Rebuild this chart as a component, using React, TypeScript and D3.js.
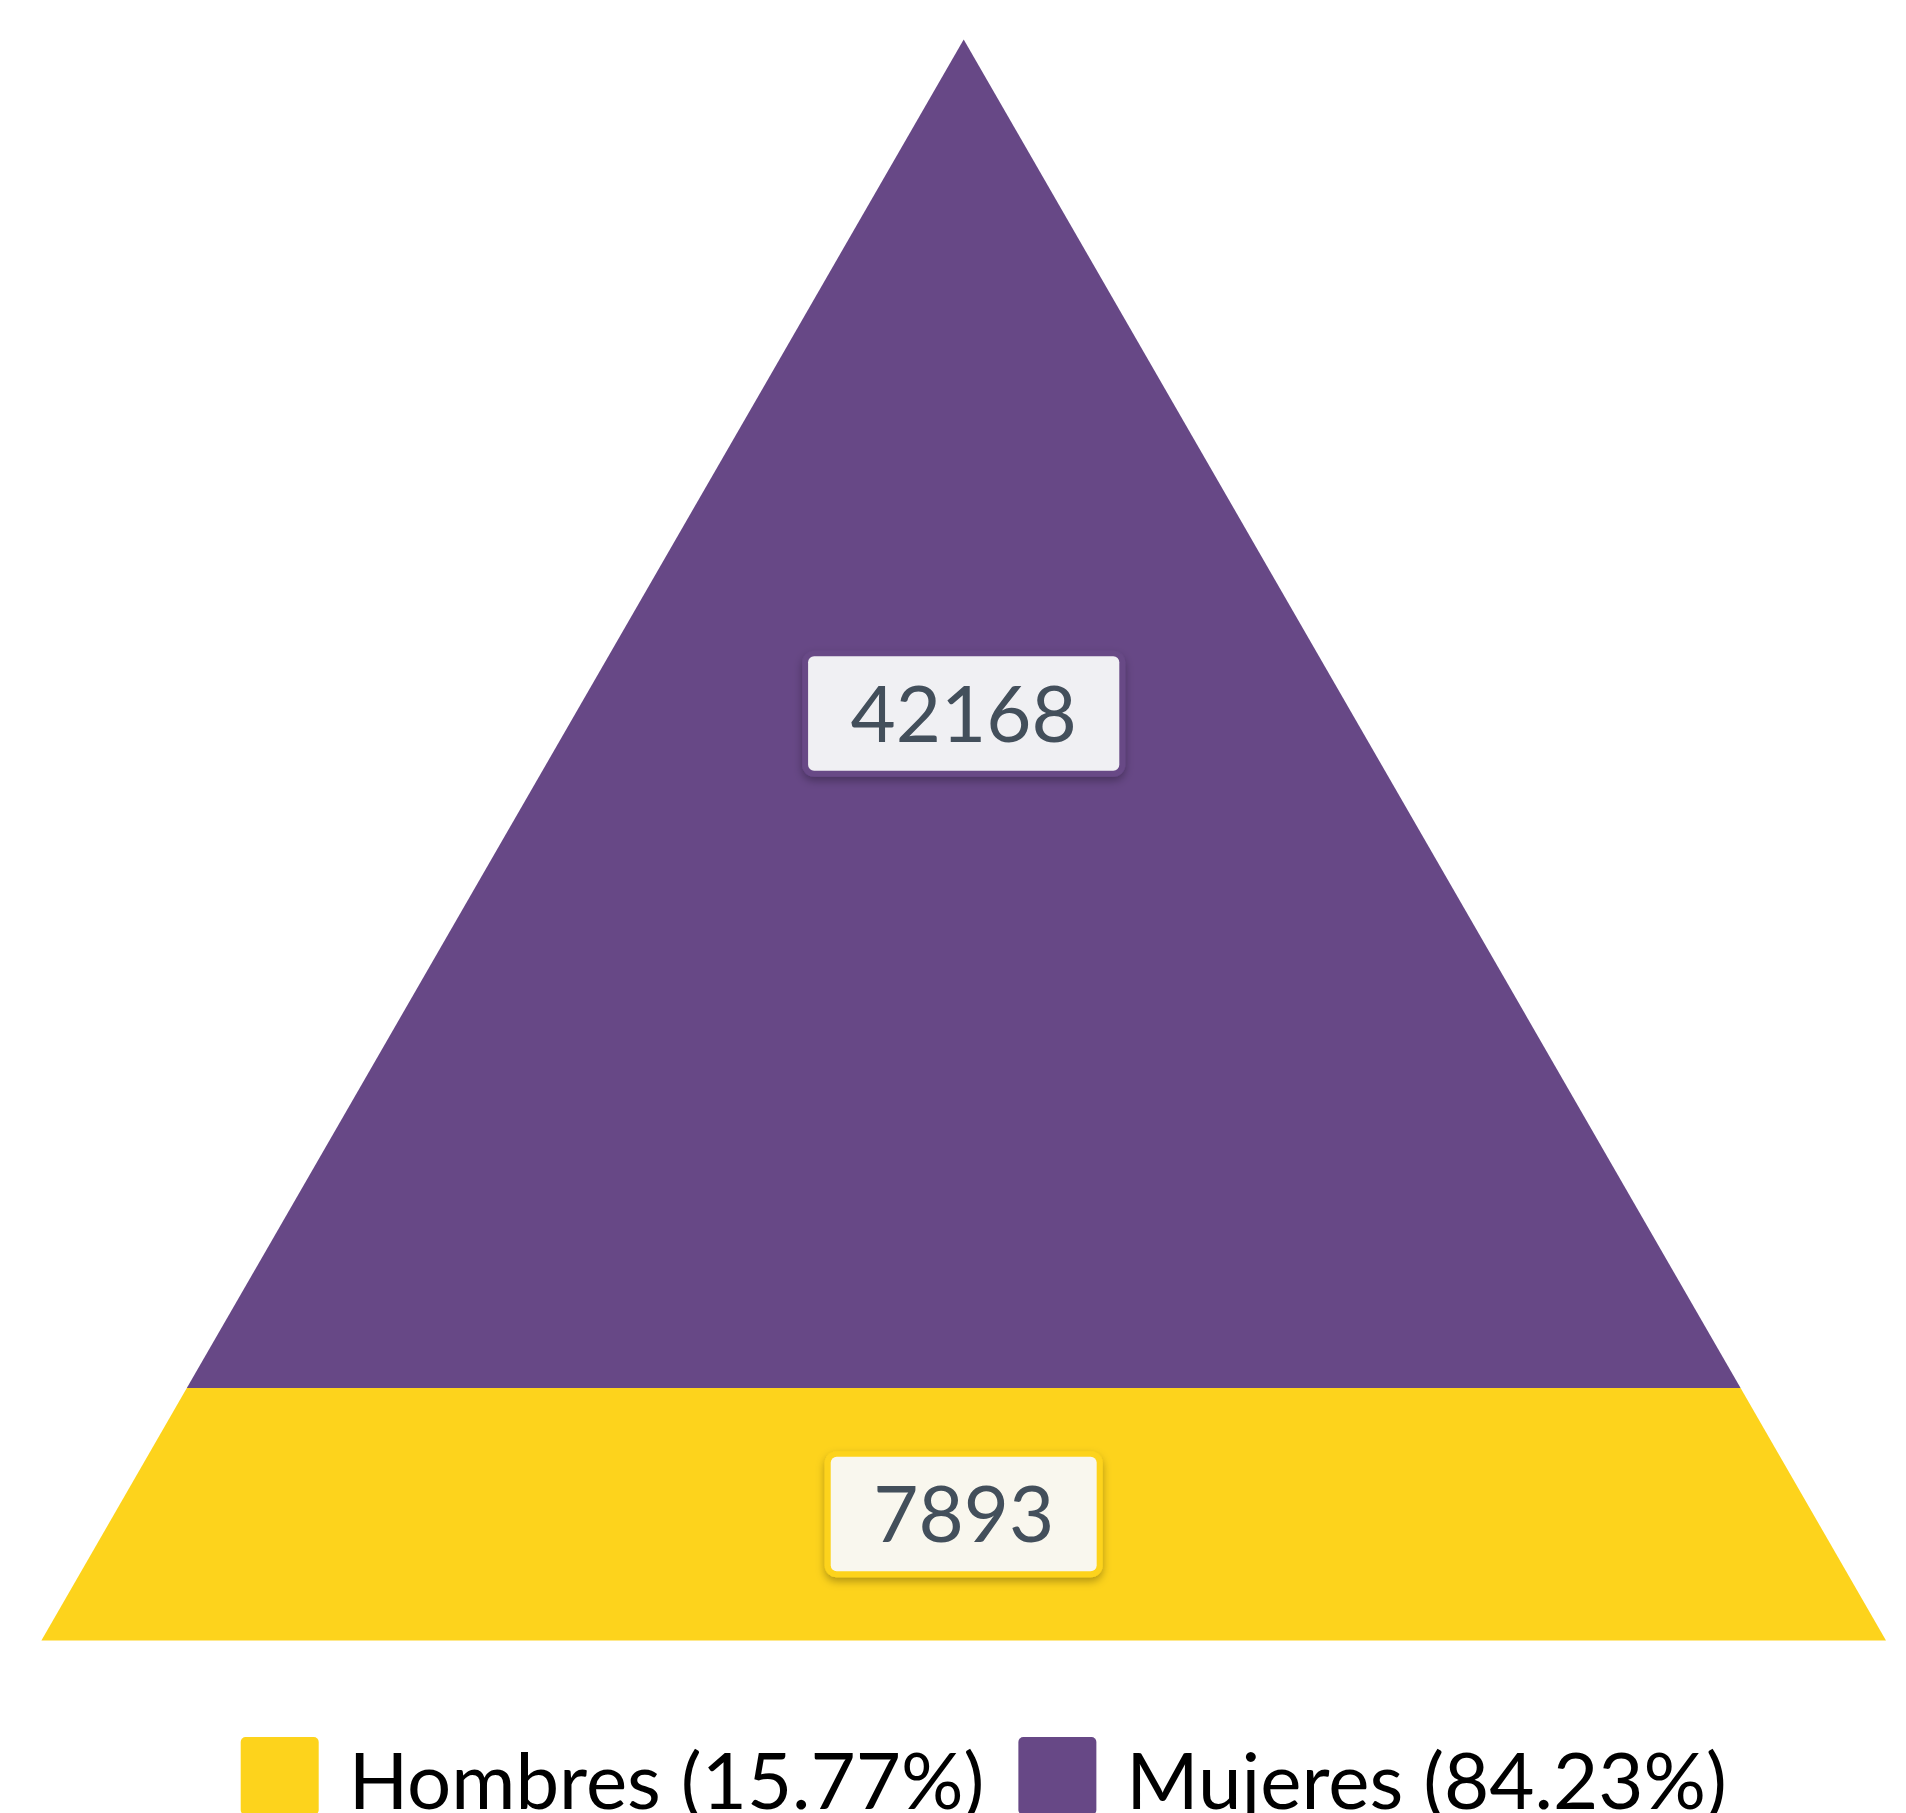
import React, { useEffect, useRef } from "react";
import * as d3 from "d3";

const categories = ["Hombres", "Mujeres"];
const values = [7893, 42168];
const colors = ["#FDD31C", "#674886"];
const labelFill = ["#F9F7EE", "#F0F0F3"];

const W = 1906;
const H = 1813;

export default function App() {
  const ref = useRef<SVGSVGElement>(null);

  useEffect(() => {
    const svg = d3.select(ref.current);
    svg.selectAll("*").remove();

    const total = d3.sum(values);
    const apexY = 39.5;
    const baseY = 1640.5;
    const cx = 963.7;
    const halfBase = 922.3;

    const y = d3.scaleLinear().domain([0, total]).range([baseY, apexY]);
    const half = d3.scaleLinear().domain([0, total]).range([halfBase, 0]);

    const defs = svg.append("defs");
    const f = defs
      .append("filter")
      .attr("id", "shadow")
      .attr("x", "-20%")
      .attr("y", "-30%")
      .attr("width", "140%")
      .attr("height", "170%");
    f.append("feDropShadow")
      .attr("dx", 0)
      .attr("dy", 4)
      .attr("stdDeviation", 4)
      .attr("flood-color", "#000")
      .attr("flood-opacity", 0.3);

    let cum = 0;
    const segs = values.map((v, i) => {
      const s = { i, v, from: cum, to: cum + v };
      cum += v;
      return s;
    });

    const line = d3.line<[number, number]>();
    svg
      .append("g")
      .selectAll("path")
      .data(segs)
      .join("path")
      .attr("d", (s) => {
        const y0 = y(s.from);
        const y1 = y(s.to);
        const h0 = half(s.from);
        const h1 = half(s.to);
        return (
          line([
            [cx - h0, y0],
            [cx + h0, y0],
            [cx + h1, y1],
            [cx - h1, y1],
          ]) + "Z"
        );
      })
      .attr("fill", (s) => colors[s.i]);

    const fontFamily = "Lato, 'Open Sans', sans-serif";
    segs.forEach((s) => {
      const cy = (y(s.from) + y(s.to)) / 2;
      const g = svg.append("g");
      const t = g
        .append("text")
        .attr("x", cx)
        .attr("y", cy + 28)
        .attr("text-anchor", "middle")
        .attr("font-family", fontFamily)
        .attr("font-size", 78)
        .attr("fill", "#434F5B")
        .text(String(s.v));
      const tw = (t.node() as SVGTextElement).getComputedTextLength();
      const bw = tw + 97;
      const bh = 126;
      g.insert("rect", "text")
        .attr("x", cx - bw / 2)
        .attr("y", cy - bh / 2)
        .attr("width", bw)
        .attr("height", bh)
        .attr("rx", 12)
        .attr("fill", colors[s.i])
        .attr("filter", "url(#shadow)");
      g.insert("rect", "text")
        .attr("x", cx - bw / 2 + 6)
        .attr("y", cy - bh / 2 + 5.5)
        .attr("width", bw - 12)
        .attr("height", bh - 11.5)
        .attr("rx", 6)
        .attr("fill", labelFill[s.i]);
    });

    const legend = svg.append("g");
    const sq = 78;
    const sqTop = 1737;
    const textBaseline = 1809;
    let x = 240.7;
    categories.forEach((c, i) => {
      const pct = ((values[i] / total) * 100).toFixed(2);
      legend
        .append("rect")
        .attr("x", x)
        .attr("y", sqTop)
        .attr("width", sq)
        .attr("height", sq)
        .attr("rx", 5)
        .attr("fill", colors[i]);
      const t = legend
        .append("text")
        .attr("x", x + sq + 30)
        .attr("y", textBaseline)
        .attr("font-family", fontFamily)
        .attr("font-size", 78)
        .attr("fill", "#000")
        .text(`${c} (${pct}%)`);
      const tw = (t.node() as SVGTextElement).getComputedTextLength();
      x = x + sq + 30 + tw + 34;
    });
  }, []);

  return (
    <svg
      ref={ref}
      width={W}
      height={H}
      style={{ position: "absolute", left: 0, top: 0, display: "block", background: "#fff" }}
    />
  );
}
